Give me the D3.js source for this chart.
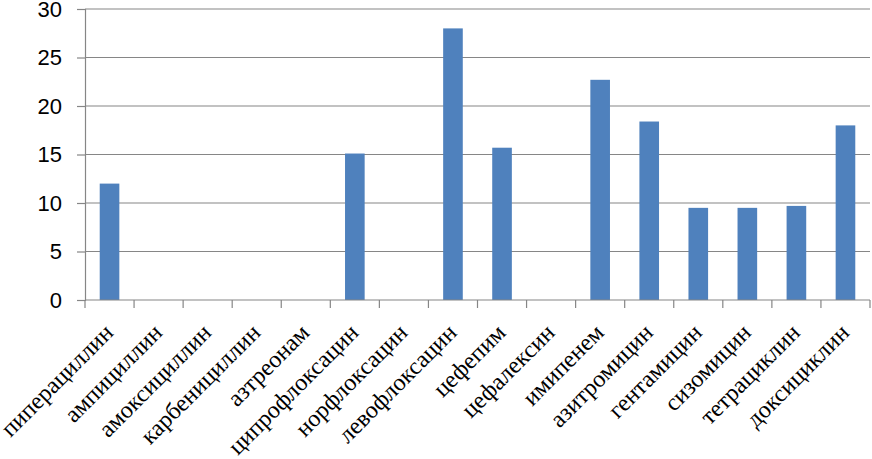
<!DOCTYPE html>
<html>
<head>
<meta charset="utf-8">
<script src="https://cdn.jsdelivr.net/npm/d3@7"></script>
<style>
    body { margin: 0; background: #fff; }
    .ylab { font-family: "Liberation Sans", Arial, sans-serif; font-size: 22px; fill: #000; }
    .xlab { font-family: "Liberation Serif", "Times New Roman", serif; font-size: 24px; fill: #000; }
</style>
</head>
<body>
<svg id="chart"></svg>
<script>
// data
const categories = ["пиперациллин", "ампициллин", "амоксициллин", "карбенициллин", "азтреонам",
    "ципрофлоксацин", "норфлоксацин", "левофлоксацин", "цефепим", "цефалексин", "имипенем",
    "азитромицин", "гентамицин", "сизомицин", "тетрациклин", "доксициклин"];
const values = [12, 0, 0, 0, 0, 15.1, 0, 28, 15.7, 0, 22.7, 18.4, 9.5, 9.5, 9.7, 18];
const yTicks = [0, 5, 10, 15, 20, 25, 30];

const width = 872, height = 459;
const plotLeft = 85, plotRight = 870, plotTop = 9, plotBottom = 300;

const svg = d3.select("#chart")
    .attr("width", width)
    .attr("height", height);

const x = d3.scaleBand()
    .domain(categories)
    .range([plotLeft, plotRight])
    .paddingInner(0.6)
    .paddingOuter(0.3);

const y = d3.scaleLinear()
    .domain([0, 30])
    .range([plotBottom, plotTop]);

// grid lines
svg.selectAll(".grid")
    .data(yTicks.filter(d => d > 0))
    .enter().append("line")
    .attr("x1", plotLeft)
    .attr("x2", plotRight)
    .attr("y1", d => y(d))
    .attr("y2", d => y(d))
    .attr("stroke", "#868686")
    .attr("stroke-width", 1.2);

// y axis
const yAxis = svg.append("g")
    .attr("transform", `translate(${plotLeft},0)`)
    .call(d3.axisLeft(y).tickValues(yTicks).tickSize(8).tickPadding(15));
yAxis.attr("font-size", null).attr("font-family", null);
yAxis.select(".domain").attr("stroke", "#868686").attr("stroke-width", 1.2);
yAxis.selectAll(".tick line").attr("stroke", "#868686").attr("stroke-width", 1.2);
yAxis.selectAll("text").attr("class", "ylab");

// bars
svg.selectAll(".bar")
    .data(values)
    .enter().append("rect")
    .attr("x", (d, i) => x(categories[i]))
    .attr("y", d => y(d))
    .attr("width", x.bandwidth())
    .attr("height", d => plotBottom - y(d))
    .attr("fill", "#4F81BD");

// x axis with ticks between categories
const step = x.step();
const xAxis = svg.append("g");
xAxis.append("line")
    .attr("x1", plotLeft).attr("x2", plotRight)
    .attr("y1", plotBottom).attr("y2", plotBottom)
    .attr("stroke", "#868686").attr("stroke-width", 1.2);
xAxis.selectAll(".xt")
    .data(d3.range(categories.length + 1))
    .enter().append("line")
    .attr("x1", i => plotLeft + i * step)
    .attr("x2", i => plotLeft + i * step)
    .attr("y1", plotBottom)
    .attr("y2", plotBottom + 8)
    .attr("stroke", "#868686").attr("stroke-width", 1.2);

// rotated category labels
xAxis.selectAll(".xlab")
    .data(categories)
    .enter().append("text")
    .attr("class", "xlab")
    .attr("text-anchor", "end")
    .attr("transform", d => `translate(${x(d) + x.bandwidth() / 2 + 5},${plotBottom + 34}) rotate(-45)`)
    .text(d => d);
</script>
</body>
</html>
